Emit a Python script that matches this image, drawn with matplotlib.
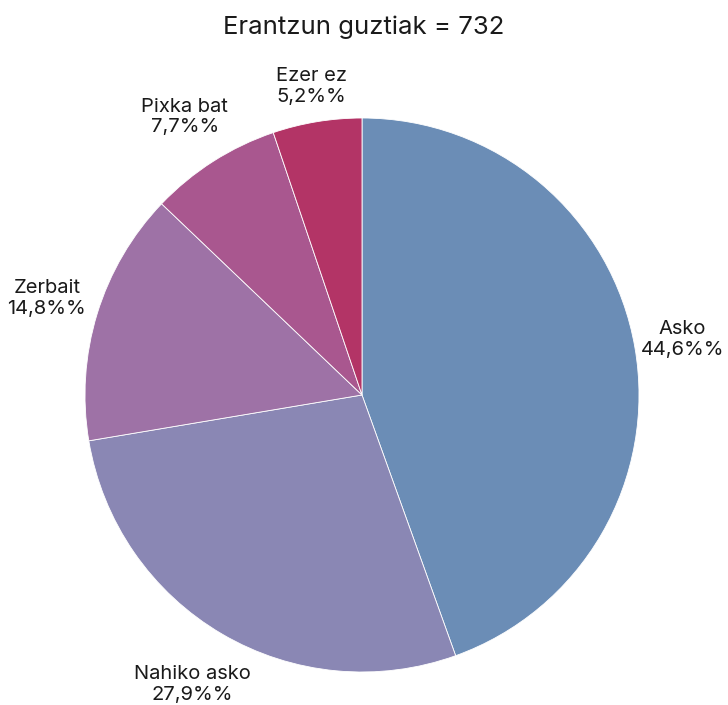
import numpy as np
import matplotlib
matplotlib.use('Agg')
import matplotlib.pyplot as plt

# Data
categories = ['Asko', 'Nahiko asko', 'Zerbait', 'Pixka bat', 'Ezer ez']
values = [44.6, 27.9, 14.8, 7.7, 5.2]
labels = ['44,6%%', '27,9%%', '14,8%%', '7,7%%', '5,2%%']
colors = ['#6b8db6', '#8a87b4', '#9e72a6', '#a9578f', '#b33466']
total = 732

plt.rcParams['font.family'] = ['Inter', 'DejaVu Sans']

fig = plt.figure(figsize=(7.28, 7.05), dpi=100)
cx, cy, r = 362, 395, 277
ax = fig.add_axes([(cx - r) / 728, (705 - cy - r) / 705, 2 * r / 728, 2 * r / 705])

wedges, _ = ax.pie(values, colors=colors, startangle=90, counterclock=False,
                   radius=1, wedgeprops=dict(edgecolor='white', linewidth=0.6))
ax.set_xlim(-1, 1)
ax.set_ylim(-1, 1)
ax.set_aspect('equal')
ax.axis('off')

# Labels outside each slice
label_dist = [1.175, 1.21, 1.19, 1.19, 1.13]
for w, cat, lab, d in zip(wedges, categories, labels, label_dist):
    ang = np.deg2rad((w.theta1 + w.theta2) / 2)
    ax.text(d * np.cos(ang), d * np.sin(ang), cat + '\n' + lab,
            ha='center', va='center', fontsize=14.5, color='#1a1a1a',
            linespacing=1.2, clip_on=False)

fig.text(0.5, 1 - 27 / 705, 'Erantzun guztiak = ' + str(total),
         ha='center', va='center', fontsize=18.5, color='#1a1a1a')

fig.savefig('out.png', dpi=100)
